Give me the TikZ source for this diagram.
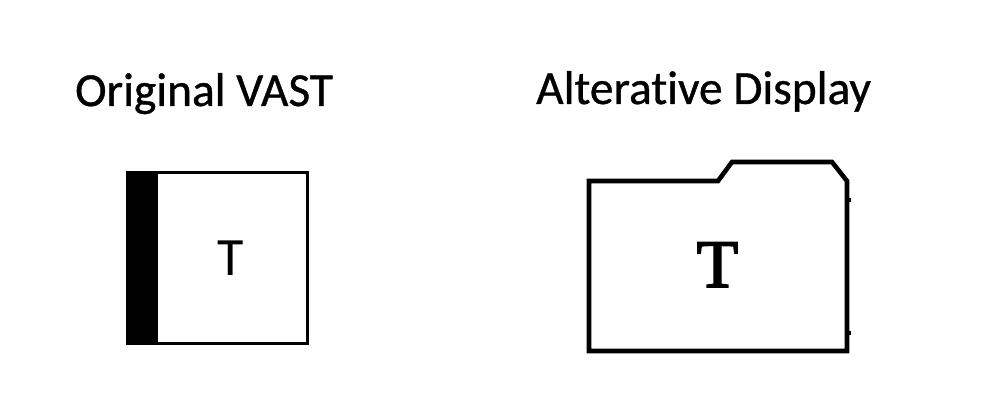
\documentclass[tikz,border=0pt]{standalone}
\usepackage{fontspec}
\setmainfont[RawFeature={-liga},BoldFont={Carlito},BoldFeatures={FakeBold=0.8}]{Carlito}
\newfontfamily\serifT[BoldFont={Liberation Serif},BoldFeatures={FakeBold=2.5}]{Liberation Serif}
\tikzset{
  x=1pt,y=-1pt,
  title/.style={anchor=base west,inner sep=0pt,font=\fontsize{47.4}{56}\bfseries\selectfont},
  letter/.style={anchor=base,inner sep=0pt,font=\fontsize{54}{60}\selectfont},
  serifletter/.style={anchor=base,inner sep=0pt,font=\serifT\fontsize{68}{76}\bfseries\selectfont},
  outline/.style={draw=black,line width=3pt,fill=white,miter limit=10},
  folderline/.style={draw=black,line width=4.6pt,fill=white,line join=miter}
}
\begin{document}
\begin{tikzpicture}
\useasboundingbox (0,0) rectangle (988,414);
\fill[white] (0,0) rectangle (988,414);
\node[title] (t1) at (75,106) {Original VAST};
\node[title] (t2) at (536,104) {Alterative Display};
\draw[outline] (127.5,172.5) rectangle (307.5,343.5);
\fill[black] (126,171) rectangle (158,345);
\node[letter] (a) at (231,275) {T};
\draw[folderline] (589,181) -- (718,181) -- (732,162) -- (832,162) -- (847,181) -- (847,351) -- (589,351) -- cycle;
\fill[black] (847,198.5) rectangle (851,202);
\fill[black] (847,331) rectangle (851,335);
\node[serifletter] (b) at (717.5,287) {T};
\end{tikzpicture}
\end{document}
